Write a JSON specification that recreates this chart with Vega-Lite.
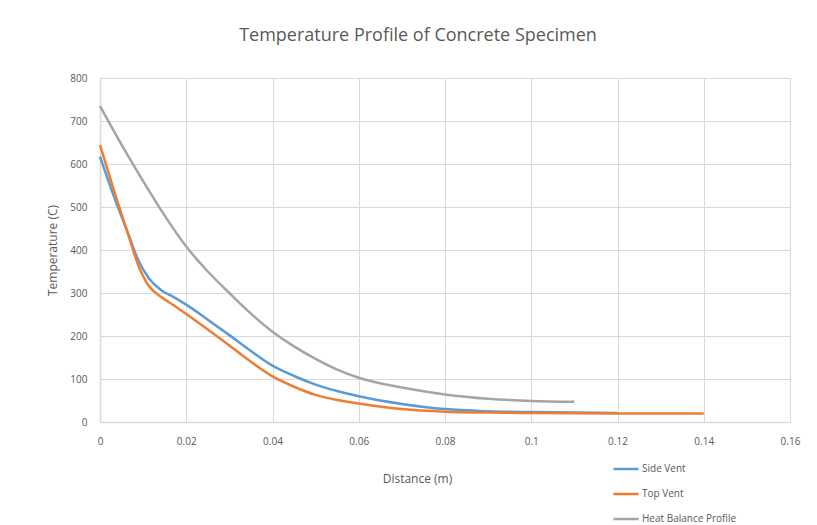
{
  "$schema": "https://vega.github.io/schema/vega-lite/v6.json",
  "autosize": "none",
  "width": 690,
  "height": 344,
  "padding": {"left": 100, "top": 78, "right": 27, "bottom": 103},
  "background": "white",
  "title": {
    "text": "Temperature Profile of Concrete Specimen",
    "font": "Open Sans",
    "fontSize": 18,
    "fontWeight": "normal",
    "color": "#595959",
    "anchor": "middle",
    "dx": -27,
    "offset": 28
  },
  "config": {
    "view": {"stroke": null},
    "axis": {
      "labelFont": "Open Sans",
      "labelFontSize": 10,
      "labelColor": "#595959",
      "titleFont": "Open Sans",
      "titleFontSize": 12,
      "titleFontWeight": "normal",
      "titleColor": "#595959",
      "gridColor": "#d9d9d9",
      "gridWidth": 1,
      "domainColor": "#d9d9d9",
      "domainWidth": 1.5,
      "ticks": false
    }
  },
  "data": {
    "values": [
      {"series": "Side Vent", "d": 0, "t": 617},
      {"series": "Side Vent", "d": 0.0035, "t": 517},
      {"series": "Side Vent", "d": 0.0062, "t": 447},
      {"series": "Side Vent", "d": 0.0089, "t": 376},
      {"series": "Side Vent", "d": 0.0112, "t": 336},
      {"series": "Side Vent", "d": 0.0143, "t": 306},
      {"series": "Side Vent", "d": 0.017, "t": 291},
      {"series": "Side Vent", "d": 0.02, "t": 273},
      {"series": "Side Vent", "d": 0.025, "t": 238},
      {"series": "Side Vent", "d": 0.03, "t": 202},
      {"series": "Side Vent", "d": 0.035, "t": 165},
      {"series": "Side Vent", "d": 0.04, "t": 131},
      {"series": "Side Vent", "d": 0.045, "t": 107},
      {"series": "Side Vent", "d": 0.05, "t": 87},
      {"series": "Side Vent", "d": 0.055, "t": 72},
      {"series": "Side Vent", "d": 0.06, "t": 60},
      {"series": "Side Vent", "d": 0.07, "t": 42},
      {"series": "Side Vent", "d": 0.08, "t": 30},
      {"series": "Side Vent", "d": 0.09, "t": 25},
      {"series": "Side Vent", "d": 0.1, "t": 23},
      {"series": "Side Vent", "d": 0.12, "t": 21},
      {"series": "Top Vent", "d": 0, "t": 644},
      {"series": "Top Vent", "d": 0.0035, "t": 530},
      {"series": "Top Vent", "d": 0.0066, "t": 434},
      {"series": "Top Vent", "d": 0.0089, "t": 364},
      {"series": "Top Vent", "d": 0.0112, "t": 318},
      {"series": "Top Vent", "d": 0.0143, "t": 290},
      {"series": "Top Vent", "d": 0.017, "t": 272},
      {"series": "Top Vent", "d": 0.02, "t": 251},
      {"series": "Top Vent", "d": 0.025, "t": 215},
      {"series": "Top Vent", "d": 0.03, "t": 178},
      {"series": "Top Vent", "d": 0.035, "t": 140},
      {"series": "Top Vent", "d": 0.04, "t": 106},
      {"series": "Top Vent", "d": 0.045, "t": 82},
      {"series": "Top Vent", "d": 0.05, "t": 63},
      {"series": "Top Vent", "d": 0.055, "t": 51},
      {"series": "Top Vent", "d": 0.06, "t": 43},
      {"series": "Top Vent", "d": 0.07, "t": 30},
      {"series": "Top Vent", "d": 0.08, "t": 24},
      {"series": "Top Vent", "d": 0.09, "t": 22},
      {"series": "Top Vent", "d": 0.1, "t": 21},
      {"series": "Top Vent", "d": 0.12, "t": 20},
      {"series": "Top Vent", "d": 0.14, "t": 20},
      {"series": "Heat Balance Profile", "d": 0, "t": 735},
      {"series": "Heat Balance Profile", "d": 0.005, "t": 645},
      {"series": "Heat Balance Profile", "d": 0.01, "t": 560},
      {"series": "Heat Balance Profile", "d": 0.015, "t": 480},
      {"series": "Heat Balance Profile", "d": 0.02, "t": 408},
      {"series": "Heat Balance Profile", "d": 0.025, "t": 350},
      {"series": "Heat Balance Profile", "d": 0.03, "t": 300},
      {"series": "Heat Balance Profile", "d": 0.035, "t": 252},
      {"series": "Heat Balance Profile", "d": 0.04, "t": 210},
      {"series": "Heat Balance Profile", "d": 0.045, "t": 176},
      {"series": "Heat Balance Profile", "d": 0.05, "t": 147},
      {"series": "Heat Balance Profile", "d": 0.055, "t": 122},
      {"series": "Heat Balance Profile", "d": 0.06, "t": 103},
      {"series": "Heat Balance Profile", "d": 0.07, "t": 80},
      {"series": "Heat Balance Profile", "d": 0.08, "t": 64},
      {"series": "Heat Balance Profile", "d": 0.09, "t": 54},
      {"series": "Heat Balance Profile", "d": 0.1, "t": 49},
      {"series": "Heat Balance Profile", "d": 0.11, "t": 47}
    ]
  },
  "mark": {"type": "line", "interpolate": "monotone", "strokeWidth": 2.5},
  "encoding": {
    "x": {
      "field": "d",
      "type": "quantitative",
      "scale": {"domain": [0, 0.16], "nice": false},
      "axis": {"values": [0, 0.02, 0.04, 0.06, 0.08, 0.1, 0.12, 0.14, 0.16], "labelExpr": "format(datum.value, '')", "title": "Distance (m)", "labelPadding": 14, "titlePadding": 27, "titleX": 317, "labelFlush": false}
    },
    "y": {
      "field": "t",
      "type": "quantitative",
      "scale": {"domain": [0, 800], "nice": false},
      "axis": {"values": [0, 100, 200, 300, 400, 500, 600, 700, 800], "title": "Temperature (C)", "labelPadding": 13, "titlePadding": 10}
    },
    "color": {
      "field": "series",
      "type": "nominal",
      "scale": {"domain": ["Side Vent", "Top Vent", "Heat Balance Profile"], "range": ["#5B9BD5", "#ED7D31", "#A5A5A5"]},
      "legend": {
        "title": null,
        "orient": "none",
        "legendX": 512,
        "legendY": 377,
        "padding": 0,
        "symbolType": "stroke",
        "symbolSize": 625,
        "symbolStrokeWidth": 2.5,
        "rowPadding": 6,
        "labelOffset": 2,
        "labelFont": "Open Sans",
        "labelFontSize": 10,
        "labelColor": "#595959"
      }
    }
  }
}
